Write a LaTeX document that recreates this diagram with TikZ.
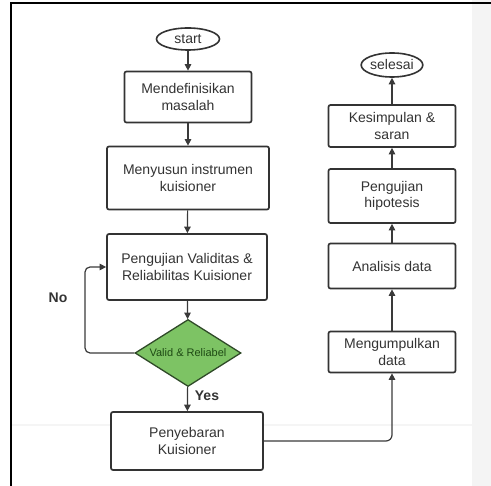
\documentclass[tikz,border=0pt]{standalone}
\usepackage{fontspec}
\setmainfont{Liberation Sans}
\usepackage{xcolor}
\usetikzlibrary{arrows.meta, positioning, shapes.geometric}
\definecolor{flowgray}{HTML}{333333}
\definecolor{linegray}{HTML}{3A3A3A}
\definecolor{decgreen}{HTML}{7DC364}
\definecolor{decborder}{HTML}{2F4A28}
\definecolor{decfont}{HTML}{1E4A14}
\definecolor{bandgray}{HTML}{F4F4F4}

\begin{document}
\begin{tikzpicture}[
    x=1pt, y=-1pt,
    >={Triangle[length=6.5pt, width=6.5pt]},
    procbox/.style={draw=flowgray, line width=1.7pt, rounded corners=2pt, fill=white, align=center, font=\fontsize{14}{16.5}\selectfont, text=flowgray, inner sep=1pt},
    terminal/.style={draw=flowgray, line width=1.6pt, ellipse, inner sep=0pt, fill=white, font=\fontsize{14}{16}\selectfont, text=flowgray},
    decision/.style={draw=decborder, line width=1.3pt, diamond, fill=decgreen, inner sep=0pt},
    declab/.style={font=\fontsize{11}{13}\selectfont, text=decfont, inner sep=0pt},
    flow/.style={->, line width=1.2pt, color=linegray},
    answer/.style={font=\fontsize{14}{16}\selectfont\bfseries, text=flowgray},
]

\useasboundingbox (0,0) rectangle (491,486);

% Page background
\fill[bandgray] (472,0) rectangle (491,486);
\draw[line width=2pt, color=black!4] (12,425) -- (472,425);
\draw[line width=1.6pt] (491,3) -- (11,3) -- (11,486);

% Left column
\node[terminal, minimum width=63, minimum height=22] (start) at (188,39) {start};
\node[procbox, minimum width=127, minimum height=51] (define) at (188,97) {Mendefinisikan\\masalah};
\node[procbox, minimum width=162, minimum height=63] (instrument) at (188,178) {Menyusun instrumen\\kuisioner};
\node[procbox, minimum width=160, minimum height=66] (testing) at (187,267) {Pengujian Validitas \&\\Reliabilitas Kuisioner};
\node[decision, minimum width=106, minimum height=67] (valid) at (188,353) {};
\node[declab] (validlab) at (valid.center) {Valid \& Reliabel};
\node[procbox, minimum width=152, minimum height=58] (spread) at (187,441) {Penyebaran\\Kuisioner};

% Right column
\node[procbox, minimum width=127, minimum height=41] (collect) at (392,352) {Mengumpulkan\\data};
\node[procbox, minimum width=127, minimum height=45] (analysis) at (392,266) {Analisis data};
\node[procbox, minimum width=127, minimum height=54] (hypothesis) at (392,196) {Pengujian\\hipotesis};
\node[procbox, minimum width=127, minimum height=42] (conclude) at (392,126) {Kesimpulan \&\\saran};
\node[terminal, minimum width=60, minimum height=24] (finish) at (392,65) {selesai};

% Connections
\draw[flow] (start) -- (define);
\draw[flow] (define) -- (instrument);
\draw[flow] (instrument) -- (testing);
\draw[flow] (testing) -- (valid);
\draw[flow] (valid) -- (spread);
\draw[flow, rounded corners=5pt] (valid.west) -- (85,353) -- (85,267) -- (testing.west);
\draw[flow, rounded corners=6pt] (spread.east) -| (collect.south);
\draw[flow] (collect) -- (analysis);
\draw[flow] (analysis) -- (hypothesis);
\draw[flow] (hypothesis) -- (conclude);
\draw[flow] (conclude) -- (finish);

% Branch labels
\node[answer] (no) at (58,298) {No};
\node[answer] (yes) at (207,396) {Yes};

\end{tikzpicture}
\end{document}
